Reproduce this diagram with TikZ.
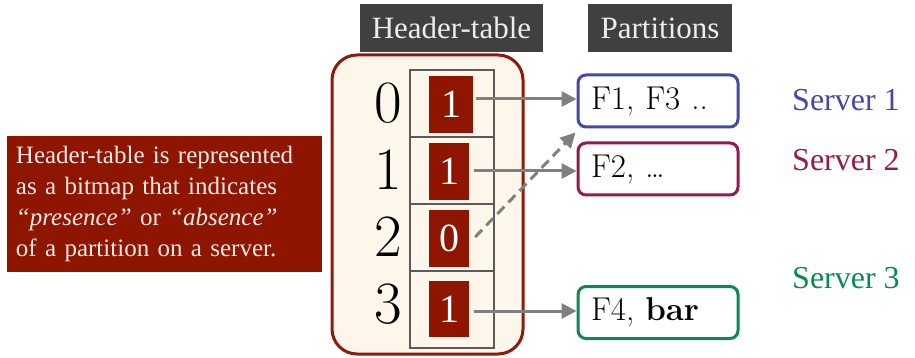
\documentclass[tikz,border=0pt]{standalone}
\usepackage{fontspec}
\setmainfont{Latin Modern Roman}
\newfontfamily\tnr{Liberation Serif}
\usetikzlibrary{arrows.meta}
\definecolor{hdr}{HTML}{404040}
\definecolor{bitred}{HTML}{8E1600}
\definecolor{frameclr}{HTML}{8E1A0A}
\definecolor{cream}{HTML}{FDF6EA}
\definecolor{cellline}{HTML}{5A5A5A}
\definecolor{arrgray}{HTML}{808080}
\definecolor{sblue}{HTML}{4448A8}
\definecolor{smaroon}{HTML}{951A4F}
\definecolor{sgreen}{HTML}{0A8A4F}
\definecolor{txtlight}{HTML}{F4EAEA}
\tikzset{
  titlebox/.style={fill=hdr, text=white!93!black, inner sep=0pt, font=\tnr\fontsize{31}{31}\selectfont},
  cell/.style={draw=cellline, line width=1.5pt, minimum width=84pt, inner sep=0pt},
  bit/.style={fill=bitred, text=white, inner sep=0pt, minimum height=57pt, font=\tnr\fontsize{40}{40}\selectfont},
  rowlab/.style={inner sep=0pt, font=\fontsize{60}{60}\selectfont},
  part/.style={draw=#1, line width=3pt, rounded corners=8pt, minimum width=160pt, minimum height=52pt,
    text width=134pt, align=left, inner xsep=13pt, inner ysep=0pt, font=\fontsize{33}{33}\selectfont},
  server/.style={text=#1, anchor=west, inner sep=0pt, font=\tnr\fontsize{32}{32}\selectfont},
  arr/.style={draw=arrgray, line width=3pt, -{Triangle[length=15pt,width=15pt]}},
  dasharr/.style={draw=arrgray, line width=3pt, dash pattern=on 10pt off 6pt, -{Triangle[length=15pt,width=15pt,sep=0pt]}},
  notebox/.style={fill=bitred, text=txtlight, minimum width=315pt, minimum height=136pt, text width=297pt,
    inner xsep=9pt, align=left, font=\tnr\fontsize{25}{31}\selectfont},
}
\begin{document}
\begin{tikzpicture}[x=1pt,y=-1pt]
\useasboundingbox (0,0) rectangle (915,358);
% titles
\node[titlebox, minimum width=183pt, minimum height=48pt] (ht) at (451.5,28) {Header-table};
\node[titlebox, minimum width=144pt, minimum height=48pt] (pt) at (660,28) {Partitions};
% big frame
\draw[frameclr, fill=cream, line width=3pt, rounded corners=25pt] (332,55) rectangle (523,354);
% cells
\node[cell, minimum height=67pt] (c0) at (452,103.5) {};
\node[cell, minimum height=67pt] (c1) at (452,170.5) {};
\node[cell, minimum height=67pt] (c2) at (452,237.5) {};
\node[cell, minimum height=77pt] (c3) at (452,309.5) {};
% bits
\node[bit, minimum width=44pt] (r0) at (451,104.5) {1};
\node[bit, minimum width=40pt] (r1) at (449,171.5) {1};
\node[bit, minimum width=40pt] (r2) at (449,238.5) {0};
\node[bit, minimum width=40pt, minimum height=56pt] (r3) at (449,309) {1};
% row labels
\node[rowlab] (l0) at (388,103) {0};
\node[rowlab] (l1) at (388,170) {1};
\node[rowlab] (l2) at (388,237) {2};
\node[rowlab] (l3) at (388,304) {3};
% partitions
\node[part=sblue] (p1) at (658,101) {F1, F3 ..};
\node[part=smaroon] (p2) at (658,169) {F2, \ldots};
\node[part=sgreen] (p3) at (658,312.5) {F4, \textbf{bar}};
% servers
\node[server=sblue] (s1) at (792,100) {Server 1};
\node[server=smaroon] (s2) at (792,160) {Server 2};
\node[server=sgreen] (s3) at (792,278) {Server 3};
% arrows
\draw[arr] ([xshift=3pt]r0.east |- 0,99) -- (p1.west |- 0,99);
\draw[arr] ([xshift=5pt]r1.east |- 0,171) -- (p2.west |- 0,171);
\draw[arr] ([xshift=5pt]r3.east |- 0,311) -- (p3.west |- 0,311);
\draw[dasharr] ([xshift=6pt,yshift=1.5pt]r2.east) -- ([xshift=-1pt,yshift=-4pt]p1.south west);
% note
\node[notebox] (note) at (164.5,204)
  {Header-table is represented\\as a bitmap that indicates\\\textit{“presence”} or \textit{“absence”}\\of a partition on a server.};
\end{tikzpicture}
\end{document}
